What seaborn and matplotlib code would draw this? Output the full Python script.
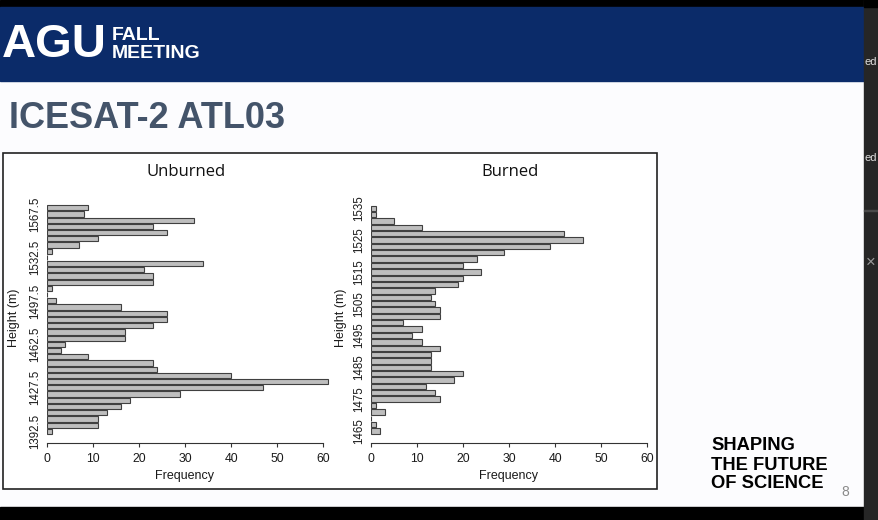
import numpy as np
import matplotlib
matplotlib.use("Agg")
import matplotlib.pyplot as plt
from matplotlib.patches import Rectangle
import seaborn as sns

# bin mid-points (m) and counts, bottom -> top
unburned_mids = np.arange(1392.5, 1575, 5)
unburned_counts = [1, 11, 11, 13, 16, 18, 29, 47, 61, 40, 24, 23, 9, 3, 4, 17, 17, 23, 26, 26,
                   16, 2, 0, 1, 23, 23, 21, 34, 0, 1, 7, 11, 26, 23, 32, 8, 9]
unburned_ticks = [1392.5, 1427.5, 1462.5, 1497.5, 1532.5, 1567.5]

burned_mids = np.arange(1465, 1537, 2)
burned_counts = [2, 1, 0, 3, 1, 15, 14, 12, 18, 20, 13, 13, 13, 15, 11, 9, 11, 7, 15, 15,
                 14, 13, 14, 19, 20, 24, 20, 23, 29, 39, 46, 42, 11, 5, 1, 1]
burned_ticks = [1465, 1475, 1485, 1495, 1505, 1515, 1525, 1535]

freq_ticks = [0, 10, 20, 30, 40, 50, 60]

sns.set_style("white")
plt.rcParams['font.family'] = ['Liberation Sans', 'DejaVu Sans']

W, H = 879, 520
fig = plt.figure(figsize=(W / 100, H / 100), dpi=100)
fig.patch.set_facecolor("#fcfcfe")


def px_rect(x0, y0, x1, y1, **kw):
    # rectangle given in pixel coords (origin top-left)
    fig.patches.append(Rectangle((x0 / W, 1 - y1 / H), (x1 - x0) / W, (y1 - y0) / H,
                                 transform=fig.transFigure, figure=fig, zorder=-5, **kw))


def px_text(x, y, s, **kw):
    fig.text(x / W, 1 - y / H, s, **kw)


# slide decoration
px_rect(0, 0, 879, 7, color="black")
px_rect(0, 7, 864, 81, color="#0b2b69")
px_rect(0, 507, 864, 520, color="black")
px_rect(864, 0, 879, 520, color="#262626")
px_rect(864, 210, 879, 211, color="#4a4a4a")
px_rect(864, 0, 879, 7, color="black")
px_rect(3, 153, 657, 489, facecolor="white", edgecolor="#222222", linewidth=1.2)

px_text(2, 45, "AGU", color="white", fontsize=34, fontweight="bold", va="center")
px_text(112, 35, "FALL", color="white", fontsize=14, fontweight="bold", va="center")
px_text(112, 54, "MEETING", color="white", fontsize=14, fontweight="bold", va="center")
px_text(9, 119, "ICESAT-2 ATL03", color="#44546a", fontsize=26, fontweight="bold", va="center")
for i, line in enumerate(["SHAPING", "THE FUTURE", "OF SCIENCE"]):
    px_text(711, 446 + i * 19, line, color="black", fontsize=13.2, fontweight="bold",
            va="center")
px_text(845, 492, "8", color="#8a8a8a", fontsize=10, ha="center", va="center")
px_text(865, 62, "ed", color="#dddddd", fontsize=8, va="center")
px_text(865, 158, "ed", color="#dddddd", fontsize=8, va="center")
px_text(871, 262, "\u00d7", color="#999999", fontsize=12, ha="center", va="center")

bar_kw = dict(orient="h", native_scale=True, color="#bebebe", saturation=1,
              edgecolor="#404040", linewidth=0.8, width=0.84)

panels = [
    (47, unburned_mids, unburned_counts, unburned_ticks, (1383.1, 1578.7), "Unburned", 14),
    (371, burned_mids, burned_counts, burned_ticks, (1461.2, 1537.6), "Burned", 341),
]
for x0, mids, counts, ticks, ylim, title, ylab_x in panels:
    ax = fig.add_axes([x0 / W, 1 - 443 / H, 283 / W, 243 / H])
    ax.set_zorder(2)
    ax.patch.set_alpha(0)
    sns.barplot(x=counts, y=mids, ax=ax, **bar_kw)
    ax.set_xlim(0, 61.5)
    ax.set_ylim(*ylim)
    ax.set_xticks(freq_ticks)
    ax.set_xticklabels([str(t) for t in freq_ticks], fontsize=8.8, color="#1a1a1a")
    ax.set_yticks(ticks)
    ax.set_yticklabels([str(t) for t in ticks], rotation=90, va="center",
                       fontsize=8.3, color="#1a1a1a")
    ax.tick_params(axis="y", length=0, pad=4)
    ax.tick_params(axis="x", length=3, width=0.8, color="#333333", pad=4, bottom=True)
    for s in ["left", "top", "right"]:
        ax.spines[s].set_visible(False)
    ax.spines["bottom"].set_bounds(0, 60)
    ax.spines["bottom"].set_color("#333333")
    ax.spines["bottom"].set_linewidth(0.8)
    ax.set_xlabel("")
    ax.set_ylabel("")
    px_text(x0 + 60 * 4.6 / 2, 476, "Frequency", fontsize=9, ha="center", va="center",
            color="#1a1a1a")
    px_text(ylab_x, 318, "Height (m)", fontsize=9, ha="center", va="center", rotation=90,
            color="#1a1a1a")
    px_text(x0 + 139, 172, title, fontsize=12, ha="center", va="center", color="#111111",
            family=['Open Sans', 'DejaVu Sans'])

fig.savefig("out.png", dpi=100, facecolor=fig.get_facecolor())
